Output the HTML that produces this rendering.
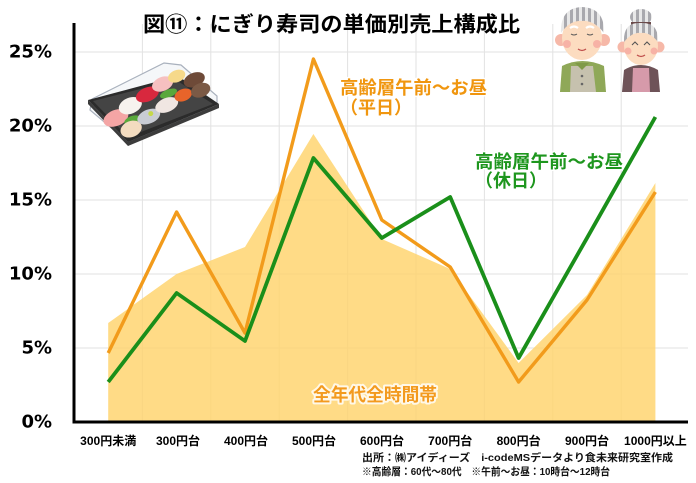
<!DOCTYPE html>
<html><head><meta charset="utf-8"><style>
html,body{margin:0;padding:0;background:#fff;}
svg{display:block;}
text{font-family:"Liberation Sans","Noto Sans CJK JP",sans-serif;font-weight:bold;}
</style></head><body>
<svg width="696" height="483" viewBox="0 0 696 483" xmlns="http://www.w3.org/2000/svg">
<defs>
<pattern id="stripe" width="6" height="6" patternUnits="userSpaceOnUse">
<rect width="6" height="6" fill="#e8e8e8"/><rect width="3" height="6" fill="#a9a9ae"/>
</pattern>
</defs>
<rect width="696" height="483" fill="#fff"/>
<!-- gridlines -->
<g stroke="#e2e2e2" stroke-width="1">
<line x1="74" y1="52" x2="688" y2="52"/>
<line x1="74" y1="126" x2="688" y2="126"/>
<line x1="74" y1="200" x2="688" y2="200"/>
<line x1="74" y1="274" x2="688" y2="274"/>
<line x1="74" y1="348" x2="688" y2="348"/>
<line x1="142.4" y1="24" x2="142.4" y2="422"/>
<line x1="210.8" y1="24" x2="210.8" y2="422"/>
<line x1="279.2" y1="24" x2="279.2" y2="422"/>
<line x1="347.6" y1="24" x2="347.6" y2="422"/>
<line x1="416" y1="24" x2="416" y2="422"/>
<line x1="484.4" y1="24" x2="484.4" y2="422"/>
<line x1="552.8" y1="24" x2="552.8" y2="422"/>
<line x1="621.2" y1="24" x2="621.2" y2="422"/>
</g>
<!-- area -->
<polygon points="108.2,422 108.2,323 176.6,274 245,247 313.4,134 381.8,239 450.2,269 518.6,363 587,295 655.4,183 655.4,422" fill="#ffd36b" fill-opacity="0.82"/>
<!-- lines -->
<polyline points="108.2,353 176.6,212 245,333 313.4,59 381.8,220 450.2,267 518.6,382 587,300 655.4,192" fill="none" stroke="#f29b1b" stroke-width="3.4" stroke-linejoin="round"/>
<polyline points="108.2,382 176.6,293 245,341 313.4,158 381.8,238 450.2,197 518.6,358 587,238 655.4,117" fill="none" stroke="#1a8f1a" stroke-width="3.8" stroke-linejoin="round"/>
<!-- axes -->
<line x1="74" y1="23" x2="74" y2="423.5" stroke="#000" stroke-width="3"/>
<line x1="72.5" y1="422" x2="688" y2="422" stroke="#000" stroke-width="3"/>
<!-- y labels -->
<g font-size="18" text-anchor="end" style="font-family:'DejaVu Sans',sans-serif" fill="#000">
<text x="52" y="52" dominant-baseline="central" style="font-family:'DejaVu Sans',sans-serif">25%</text>
<text x="52" y="126" dominant-baseline="central" style="font-family:'DejaVu Sans',sans-serif">20%</text>
<text x="52" y="200" dominant-baseline="central" style="font-family:'DejaVu Sans',sans-serif">15%</text>
<text x="52" y="274" dominant-baseline="central" style="font-family:'DejaVu Sans',sans-serif">10%</text>
<text x="52" y="348" dominant-baseline="central" style="font-family:'DejaVu Sans',sans-serif">5%</text>
<text x="52" y="422" dominant-baseline="central" style="font-family:'DejaVu Sans',sans-serif">0%</text>
</g>
<!-- x labels -->
<g font-size="12" text-anchor="middle" fill="#000">
<text x="108.2" y="441" dominant-baseline="central">300円未満</text>
<text x="178" y="441" dominant-baseline="central">300円台</text>
<text x="246" y="441" dominant-baseline="central">400円台</text>
<text x="314" y="441" dominant-baseline="central">500円台</text>
<text x="382" y="441" dominant-baseline="central">600円台</text>
<text x="450.2" y="441" dominant-baseline="central">700円台</text>
<text x="518.6" y="441" dominant-baseline="central">800円台</text>
<text x="587" y="441" dominant-baseline="central">900円台</text>
<text x="655.4" y="441" dominant-baseline="central">1000円以上</text>
</g>
<!-- source -->
<text x="362" y="458" font-size="10.5" dominant-baseline="central" textLength="311" lengthAdjust="spacingAndGlyphs" fill="#111">出所：㈱アイディーズ　i-codeMSデータより食未来研究室作成</text>
<text x="362" y="472" font-size="10.5" dominant-baseline="central" textLength="248" lengthAdjust="spacingAndGlyphs" fill="#111">※高齢層：60代～80代　※午前～お昼：10時台～12時台</text>
<!-- title -->
<text x="143" y="25" font-size="21" dominant-baseline="central" textLength="377" lengthAdjust="spacingAndGlyphs" fill="#000">図⑪：にぎり寿司の単価別売上構成比</text>
<!-- annotations -->
<g font-size="18" fill="#f0960f" stroke="#fff" stroke-width="3" paint-order="stroke" stroke-linejoin="round">
<text x="340" y="88" dominant-baseline="central" textLength="147" lengthAdjust="spacingAndGlyphs">高齢層午前～お昼</text>
<text x="340" y="108" dominant-baseline="central">（平日）</text>
</g>
<g font-size="18" fill="#1e961e" stroke="#fff" stroke-width="3" paint-order="stroke" stroke-linejoin="round">
<text x="475" y="162" dominant-baseline="central" textLength="148" lengthAdjust="spacingAndGlyphs">高齢層午前～お昼</text>
<text x="475" y="181" dominant-baseline="central">（休日）</text>
</g>
<text x="313" y="395" font-size="18" dominant-baseline="central" textLength="124" lengthAdjust="spacingAndGlyphs" fill="#f39a1e" stroke="#fff8e8" stroke-width="4" paint-order="stroke" stroke-linejoin="round">全年代全時間帯</text>
<!-- sushi illustration -->
<g>
<polygon points="92,99 164,63 181,65 217,96 217,106 128,142 90,110" fill="#f5f7f9" stroke="#a9b1bd" stroke-width="1.2"/>
<polygon points="88,104 128,146 219,108 219,104 128,142 88,100" fill="#3c3c3c"/>
<polygon points="88,100 178,76 219,104 128,142" fill="#2b2b2b"/>
<polygon points="93,101 176,80 213,104 128,137" fill="#444"/>
<g transform="rotate(-22 155 100)">
<ellipse cx="112" cy="102" rx="13" ry="8" fill="#f4a5a5"/>
<ellipse cx="130" cy="96" rx="12" ry="8" fill="#f7f2ee"/>
<ellipse cx="150" cy="92" rx="12" ry="7" fill="#d8283e"/>
<ellipse cx="168" cy="88" rx="11" ry="7" fill="#f6c0c0"/>
<ellipse cx="184" cy="86" rx="9" ry="6" fill="#f6d98a"/>
<ellipse cx="199" cy="96" rx="11" ry="7" fill="#6e4a38"/>
<ellipse cx="126" cy="110" rx="8" ry="4" fill="#5aa83c"/>
<ellipse cx="170" cy="99" rx="9" ry="4" fill="#5aa83c"/>
<ellipse cx="122" cy="118" rx="11" ry="8" fill="#f3dcc0"/>
<ellipse cx="143" cy="113" rx="12" ry="7" fill="#c9ccd4"/>
<ellipse cx="164" cy="109" rx="12" ry="7" fill="#f0e6e2"/>
<ellipse cx="183" cy="106" rx="9" ry="6" fill="#e8642a"/>
<ellipse cx="201" cy="108" rx="10" ry="7" fill="#7b5a46"/>
<circle cx="146" cy="111" r="2.5" fill="#c6d84a"/>
</g>
</g>
<!-- elderly man -->
<g>
<path d="M560,92 L562,66 Q582,56 604,66 L606,92 Z" fill="#8fa858"/>
<path d="M570,92 L571,66 L593,66 L596,92 Z" fill="#c6c1ae"/>
<circle cx="582" cy="76" r="1.3" fill="#666"/><circle cx="582" cy="84" r="1.3" fill="#666"/>
<path d="M575,63 L582,70 L589,63 Z" fill="#7f9a48"/>
<circle cx="561" cy="40" r="6" fill="#f6b8a8"/>
<circle cx="604" cy="40" r="6" fill="#f6b8a8"/>
<ellipse cx="582" cy="38" rx="20" ry="22" fill="#fcdcc0"/>
<path d="M561,33 Q560,8 582,7 Q605,8 604,33 Q594,20 582,21 Q570,20 561,33 Z" fill="url(#stripe)"/>
<path d="M570,28 q4,-3 8,0 M586,28 q4,-3 8,0" stroke="#fff" stroke-width="2.2" fill="none"/>
<path d="M571,34 q3,2 6,0 M587,34 q3,2 6,0" stroke="#555" stroke-width="1" fill="none"/>
<circle cx="567" cy="44" r="4" fill="#f7b2a6"/><circle cx="597" cy="44" r="4" fill="#f7b2a6"/>
<path d="M578,49 q4,3 8,0" stroke="#c0504d" stroke-width="1.3" fill="none"/>
</g>
<!-- elderly woman -->
<g>
<path d="M622,92 L624,70 Q641,60 658,70 L660,92 Z" fill="#6e5358"/>
<path d="M632,92 L633,68 L649,68 L650,92 Z" fill="#d69aaa"/>
<circle cx="623" cy="47" r="5.5" fill="#f6b8a8"/>
<circle cx="659" cy="47" r="5.5" fill="#f6b8a8"/>
<ellipse cx="641" cy="46" rx="17" ry="19" fill="#fcdcc0"/>
<ellipse cx="641" cy="17" rx="11" ry="8" fill="url(#stripe)"/>
<rect x="631" y="22" width="20" height="2.5" fill="#6a4a4a"/>
<path d="M624,42 Q623,22 641,23 Q659,22 658,42 Q650,32 641,33 Q632,32 624,42 Z" fill="url(#stripe)"/>
<path d="M632,45 l3,-3 l3,3 M644,45 l3,-3 l3,3" stroke="#555" stroke-width="1.1" fill="none"/>
<circle cx="628" cy="51" r="3.5" fill="#f7b2a6"/><circle cx="654" cy="51" r="3.5" fill="#f7b2a6"/>
<path d="M637,55 q4,3 8,0" stroke="#c0504d" stroke-width="1.3" fill="none"/>
</g>
</svg>
</body></html>
